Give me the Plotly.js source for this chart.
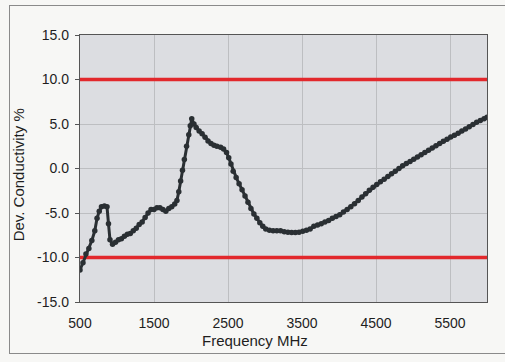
<!DOCTYPE html>
<html>
<head>
<meta charset="utf-8">
<script src="https://cdn.plot.ly/plotly-3.0.1.min.js"></script>
<style>
  html, body { margin: 0; padding: 0; background: #f7f7f5; }
  #wrap { position: relative; width: 505px; height: 362px; }
  #chart { width: 505px; height: 362px; }
  #frame { position: absolute; left: 9px; top: 5px; width: 500px; height: 347px;
           border: 1.5px solid #8a8a8a; pointer-events: none; }
</style>
</head>
<body>
<div id="wrap">
  <div id="chart"></div>
  <div id="frame"></div>
</div>
<script>
// Frequency (MHz) and deviation of conductivity (%)
const freq = [500, 540, 580, 620, 660, 700, 730, 760, 790, 830, 865, 885, 905, 940, 980,
  1020, 1060, 1100, 1140, 1180, 1220, 1260, 1300, 1340, 1380, 1420, 1460, 1500, 1540, 1580,
  1620, 1660, 1700, 1740, 1780, 1810, 1835, 1860, 1885, 1910, 1940, 1970, 1990, 2010, 2040,
  2070, 2110, 2150, 2190, 2230, 2270, 2310, 2350, 2400, 2440, 2480, 2510, 2540, 2570, 2610,
  2650, 2690, 2730, 2770, 2810, 2850, 2890, 2930, 2970, 3010, 3060, 3110, 3160, 3210, 3260,
  3310, 3360, 3410, 3460, 3510, 3560, 3610, 3660, 3710, 3760, 3810, 3860, 3910, 3960, 4010,
  4060, 4110, 4160, 4210, 4260, 4310, 4360, 4410, 4460, 4510, 4560, 4610, 4660, 4710, 4760,
  4810, 4860, 4910, 4960, 5010, 5060, 5110, 5160, 5210, 5260, 5310, 5360, 5410, 5460, 5510,
  5560, 5610, 5660, 5710, 5760, 5810, 5860, 5910, 5960, 6000];
const deviation = [-11.4, -10.6, -9.6, -9.0, -8.1, -7.0, -5.6, -4.8, -4.3, -4.2, -4.3, -6.2, -8.0, -8.5, -8.3,
  -8.0, -7.9, -7.6, -7.4, -7.3, -7.0, -6.7, -6.3, -6.0, -5.5, -5.0, -4.6, -4.6, -4.4, -4.4,
  -4.6, -4.8, -4.5, -4.3, -4.0, -3.6, -2.6, -1.4, -0.2, 1.0, 2.5, 3.8, 4.8, 5.6, 5.0,
  4.6, 4.2, 3.9, 3.5, 3.1, 2.8, 2.6, 2.5, 2.4, 2.2, 1.8, 1.2, 0.5, -0.3, -1.0,
  -1.7, -2.4, -3.1, -3.8, -4.5, -5.1, -5.6, -6.1, -6.5, -6.8, -6.95, -7.0, -7.0, -7.0, -7.1,
  -7.15, -7.2, -7.2, -7.15, -7.05, -6.95, -6.8, -6.5, -6.35, -6.2, -6.0, -5.85, -5.6, -5.4, -5.2,
  -4.9, -4.6, -4.3, -3.95, -3.6, -3.2, -2.85, -2.45, -2.1, -1.8, -1.5, -1.2, -0.9, -0.6, -0.3,
  0.0, 0.3, 0.55, 0.8, 1.05, 1.3, 1.55, 1.8, 2.05, 2.3, 2.55, 2.8, 3.05, 3.3, 3.55,
  3.75, 3.95, 4.2, 4.45, 4.7, 4.95, 5.2, 5.4, 5.6, 5.75];

const limitX = [500, 6000];
const upperLimit = [10, 10];
const lowerLimit = [-10, -10];

const xTicks = [500, 1500, 2500, 3500, 4500, 5500];
const yTicks = [-15, -10, -5, 0, 5, 10, 15];

const fontFamily = 'Liberation Sans, Arial, sans-serif';
const textColor = '#1e1e1e';

const traces = [
  { x: limitX, y: upperLimit, mode: 'lines', line: { color: '#e2282c', width: 3.5 }, hoverinfo: 'skip' },
  { x: limitX, y: lowerLimit, mode: 'lines', line: { color: '#e2282c', width: 3.5 }, hoverinfo: 'skip' },
  { x: freq, y: deviation, mode: 'lines+markers',
    line: { color: '#2a2f33', width: 3 },
    marker: { color: '#2a2f33', size: 5.5 } }
];

const layout = {
  width: 505, height: 362,
  margin: { l: 80, r: 18, t: 35, b: 60 },
  paper_bgcolor: 'rgba(0,0,0,0)',
  plot_bgcolor: '#dcdde1',
  showlegend: false,
  font: { family: fontFamily, color: textColor, size: 14 },
  xaxis: {
    range: [500, 6000],
    tickvals: xTicks,
    ticktext: xTicks.map(String),
    showgrid: true, gridcolor: '#bdbec1', gridwidth: 1,
    zeroline: false,
    showline: true, linecolor: '#555', linewidth: 1.2, mirror: true,
    ticks: '', ticklabelstandoff: 8,
    tickfont: { size: 14, color: textColor }
  },
  yaxis: {
    range: [-15, 15],
    tickvals: yTicks,
    ticktext: yTicks.map(v => v.toFixed(1)),
    showgrid: true, gridcolor: '#bdbec1', gridwidth: 1,
    zeroline: false,
    showline: true, linecolor: '#555', linewidth: 1.2, mirror: true,
    ticks: 'outside', ticklen: 4, tickcolor: '#555', tickwidth: 1,
    ticklabelstandoff: 3,
    tickfont: { size: 14, color: textColor }
  },
  annotations: [
    { text: 'Frequency MHz', xref: 'paper', yref: 'paper', x: 0.43, y: -0.145,
      xanchor: 'center', yanchor: 'middle', showarrow: false,
      font: { size: 15, color: textColor, family: fontFamily } },
    { text: 'Dev. Conductivity %', xref: 'paper', yref: 'paper', x: -0.152, y: 0.475,
      xanchor: 'center', yanchor: 'middle', showarrow: false, textangle: -90,
      font: { size: 15, color: textColor, family: fontFamily } }
  ]
};

Plotly.newPlot('chart', traces, layout, { displayModeBar: false, staticPlot: true });
</script>
</body>
</html>
